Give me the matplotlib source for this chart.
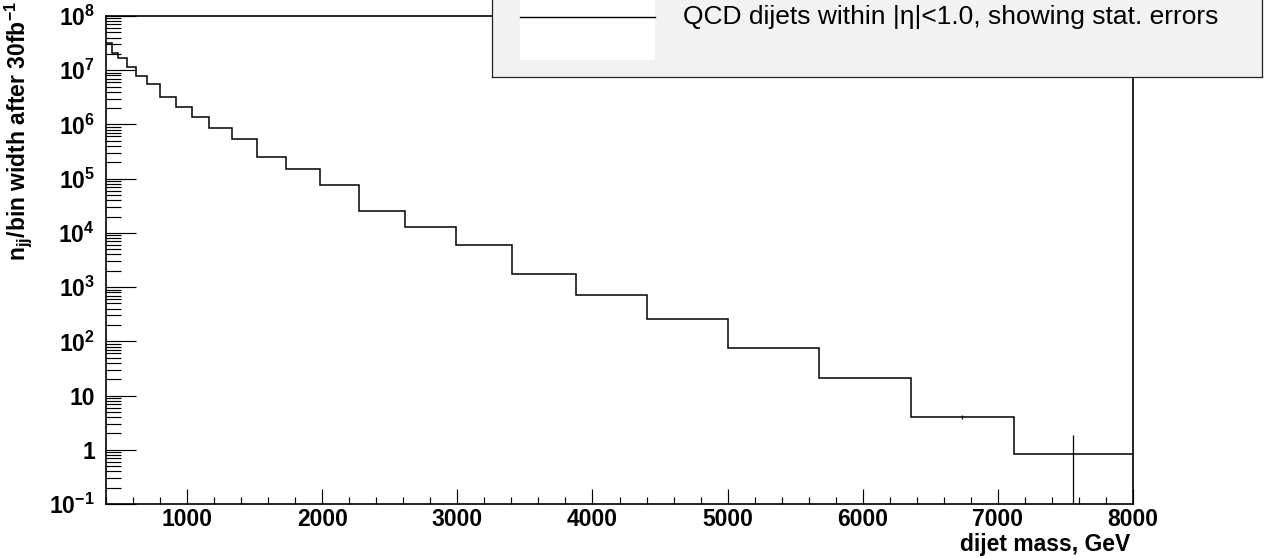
import matplotlib
matplotlib.use("Agg")
import matplotlib.pyplot as plt
from matplotlib.ticker import FixedLocator, FixedFormatter, MultipleLocator, LogLocator, NullFormatter
import numpy as np

plt.rcParams["font.family"] = ["Liberation Sans", "DejaVu Sans"]
plt.rcParams["mathtext.fontset"] = "custom"
plt.rcParams["mathtext.rm"] = "Liberation Sans"
plt.rcParams["mathtext.bf"] = "Liberation Sans:bold"

# dijet mass bin edges (GeV) and n_jj / bin width
mass_edges = [400, 442, 489, 553, 620, 706, 800, 918, 1034, 1164, 1330, 1520,
              1732, 1984, 2272, 2613, 2988, 3407, 3878, 4407, 5005, 5678,
              6357, 7117, 8000]
n_jj = [3.18e7, 2.10e7, 1.68e7, 1.16e7, 7.8e6, 5.6e6, 3.17e6, 2.07e6,
        1.37e6, 8.6e5, 5.4e5, 2.54e5, 1.51e5, 7.6e4, 2.56e4, 1.28e4,
        5.97e3, 1.78e3, 714, 255, 76, 20.8, 4.07, 0.824]
# stat. errors, only visible for the last two bins
stat_err = [0, 0, 0, 0, 0, 0, 0, 0, 0, 0, 0, 0,
            0, 0, 0, 0, 0, 0, 0, 0, 0, 0, 0.35, 1.05]

xticks = [1000, 2000, 3000, 4000, 5000, 6000, 7000, 8000]
xtick_labels = ["1000", "2000", "3000", "4000", "5000", "6000", "7000", "8000"]
yticks = [1e-1, 1, 10, 1e2, 1e3, 1e4, 1e5, 1e6, 1e7, 1e8]
ytick_labels = [r"10$^{\mathbf{-1}}$", "1", "10", r"10$^{\mathbf{2}}$",
                r"10$^{\mathbf{3}}$", r"10$^{\mathbf{4}}$", r"10$^{\mathbf{5}}$",
                r"10$^{\mathbf{6}}$", r"10$^{\mathbf{7}}$", r"10$^{\mathbf{8}}$"]
legend_text = "QCD dijets within |\u03b7|<1.0, showing stat. errors"

W, H = 1277, 558
fig = plt.figure(figsize=(W / 100, H / 100), dpi=100)
fig.patch.set_facecolor("white")

ax = fig.add_axes([106 / W, 1 - 504 / H, (1133 - 106) / W, (504 - 16) / H])
ax.set_yscale("log")
ax.set_xlim(400, 8000)
ax.set_ylim(1e-1, 1e8)

edges = np.array(mass_edges)
centers = 0.5 * (edges[1:] + edges[:-1])
ax.stairs(n_jj, edges, baseline=None, color="black", lw=1.1)
ax.errorbar(centers, n_jj, yerr=stat_err, fmt="none", ecolor="black",
            elinewidth=0.9, capsize=0)

ax.xaxis.set_major_locator(FixedLocator(xticks))
ax.xaxis.set_major_formatter(FixedFormatter(xtick_labels))
ax.xaxis.set_minor_locator(MultipleLocator(200))
ax.yaxis.set_major_locator(FixedLocator(yticks))
ax.yaxis.set_major_formatter(FixedFormatter(ytick_labels))
ax.yaxis.set_minor_locator(LogLocator(base=10, subs=np.arange(2, 10), numticks=20))
ax.yaxis.set_minor_formatter(NullFormatter())

ax.tick_params(axis="both", which="both", direction="in", width=0.85,
               top=False, right=False)
ax.tick_params(axis="x", which="major", length=10.8, pad=3)
ax.tick_params(axis="x", which="minor", length=5)
ax.tick_params(axis="y", which="major", length=21.6, pad=8)
ax.tick_params(axis="y", which="minor", length=10.8)
for lab in ax.get_xticklabels() + ax.get_yticklabels():
    lab.set_fontsize(16.5)
    lab.set_fontweight("bold")
for sp in ax.spines.values():
    sp.set_linewidth(1.2)

ax.set_xlabel("dijet mass, GeV", fontsize=16.5, fontweight="bold", ha="right")
ax.xaxis.set_label_coords(1130 / W, 1 - 533 / H, transform=fig.transFigure)
ax.set_ylabel(r"n$_{\mathbf{jj}}$/bin width after 30fb$^{\mathbf{-1}}$",
              fontsize=16.5, fontweight="bold", ha="right", va="center")
ax.yaxis.set_label_coords(18 / W, 1 - 1 / H, transform=fig.transFigure)

# legend box (ROOT style), partly above the top of the canvas
lx0, lx1, ly1 = 491.7, 1262.3, 77.3
lg = fig.add_axes([lx0 / W, 1 - ly1 / H, (lx1 - lx0) / W, (ly1 + 10) / H], zorder=5)
lg.set_xlim(lx0, lx1)
lg.set_ylim(ly1, -10)
lg.set_facecolor("#f2f2f2")
lg.set_xticks([])
lg.set_yticks([])
for sp in lg.spines.values():
    sp.set_linewidth(0.9)
    sp.set_color("#222222")
lg.add_patch(plt.Rectangle((520, -10), 135, 70, facecolor="white", edgecolor="none"))
lg.plot([520, 655], [16.7, 16.7], color="black", lw=1.0)
lg.text(683, 16.7, legend_text, fontsize=19, va="center", ha="left")

fig.savefig("out.png", dpi=100)
